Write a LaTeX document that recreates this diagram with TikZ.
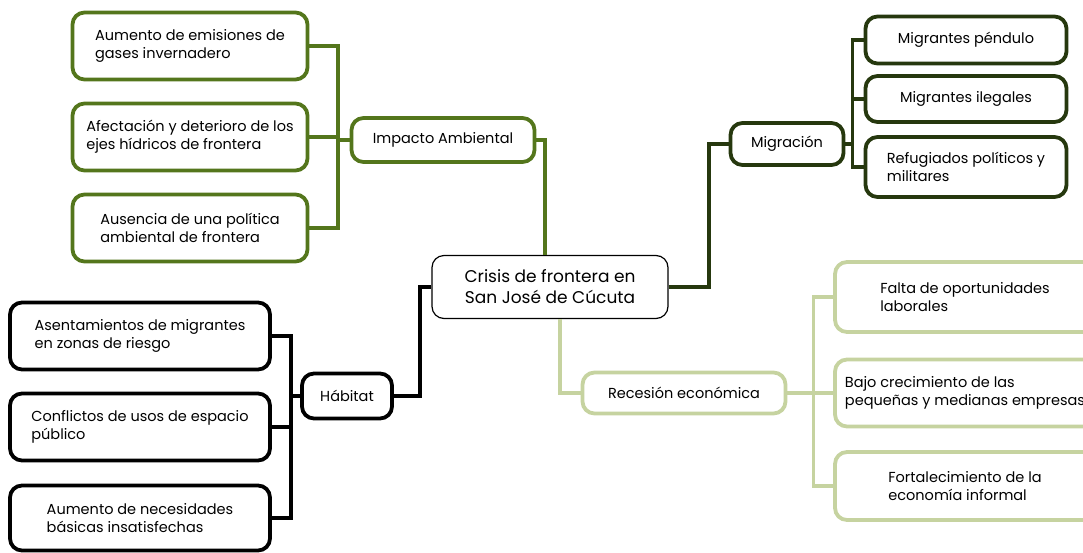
\documentclass[tikz,border=0pt]{standalone}
\usepackage{fontspec}
\setmainfont{Poppins}
\usetikzlibrary{calc}

\definecolor{ambgreen}{RGB}{84,118,28}
\definecolor{miggreen}{RGB}{38,56,14}
\definecolor{recgreen}{RGB}{198,211,160}

\tikzset{
  box/.style={draw,rounded corners=12pt,line width=3.8pt,fill=white,align=left,
    font=\fontsize{14.5}{18}\selectfont,inner sep=3pt},
  leaf/.style={box,minimum width=#1,minimum height=67pt},
  amb/.style={draw=ambgreen},
  mig/.style={draw=miggreen},
  hab/.style={draw=black},
  rec/.style={draw=recgreen},
  link/.style={line width=3.8pt}
}

\begin{document}
\begin{tikzpicture}[x=1pt,y=-1pt]
\useasboundingbox (0,0) rectangle (1083,552);

%% centre
\node[draw,rounded corners=12pt,line width=1.2pt,align=center,minimum width=236pt,minimum height=63pt,
  font=\fontsize{17}{21}\selectfont] (cri) at (550,287) {Crisis de frontera en\\San José de Cúcuta};

%% impacto ambiental
\node[box,amb,minimum width=183pt,minimum height=44pt] (imp) at (443,140) {Impacto Ambiental};
\node[leaf=235pt,amb] (a1) at (190,46) {Aumento de emisiones de\\gases invernadero};
\node[leaf=235pt,amb] (a2) at (190,137) {Afectación y deterioro de los\\ejes hídricos de frontera};
\node[leaf=235pt,amb] (a3) at (190,228) {Ausencia de una política\\ambiental de frontera};

%% migracion
\node[box,mig,minimum width=113pt,minimum height=42pt] (mig) at (787,144) {Migración};
\node[box,mig,minimum width=201pt,minimum height=47pt] (m1) at (966,40) {Migrantes péndulo};
\node[box,mig,minimum width=201pt,minimum height=46pt] (m2) at (966,99) {Migrantes ilegales};
\node[box,mig,minimum width=201pt,minimum height=60pt] (m3) at (966,167) {Refugiados políticos y\\militares};

%% habitat
\node[box,hab,minimum width=90pt,minimum height=45pt] (hab) at (347,396) {Hábitat};
\node[leaf=260pt,hab] (h1) at (140,336) {Asentamientos de migrantes\\en zonas de riesgo};
\node[leaf=260pt,hab] (h2) at (140,427) {Conflictos de usos de espacio\\público};
\node[leaf=260pt,hab,minimum height=65pt] (h3) at (140,518) {Aumento de necesidades\\básicas insatisfechas};

%% recesion
\node[box,rec,minimum width=203pt,minimum height=41pt] (rec) at (684,393) {Recesión económica};
\node[leaf=260pt,rec,minimum height=70pt] (r1) at (965,297) {Falta de oportunidades\\laborales};
\node[leaf=260pt,rec] (r2) at (965,393) {Bajo crecimiento de las\\pequeñas y medianas empresas};
\node[leaf=260pt,rec,minimum height=68pt] (r3) at (965,486) {Fortalecimiento de la\\economía informal};

%% links
\draw[link,ambgreen] (imp.east) -| ([xshift=-5pt]cri.north);
\draw[link,ambgreen] (imp.west) -- ++(-12,0) coordinate (as);
\draw[link,ambgreen] (a1.east) -| (as) |- (a3.east);
\draw[link,ambgreen] (a2.east) -- (a2.east -| as);

\draw[link,miggreen] (cri.east) -- ++(40,0) |- (mig.west);
\draw[link,miggreen] (mig.east) -- ++(7,0) coordinate (ms);
\draw[link,miggreen] (m1.west) -| (ms) |- (m3.west);
\draw[link,miggreen] (m2.west) -- (m2.west -| ms);

\draw[link,black] (hab.east) -- ++(26,0) |- (cri.west);
\draw[link,black] (hab.west) -- ++(-9,0) coordinate (hs);
\draw[link,black] (h1.east) -| (hs) |- (h3.east);
\draw[link,black] (h2.east) -- (h2.east -| hs);

\draw[link,recgreen] (rec.west) -| ([xshift=10pt]cri.south);
\draw[link,recgreen] (rec.east) -- ++(26,0) coordinate (rs);
\draw[link,recgreen] (r1.west) -| (rs) |- (r3.west);
\draw[link,recgreen] (r2.west) -- (r2.west -| rs);
\end{tikzpicture}
\end{document}
